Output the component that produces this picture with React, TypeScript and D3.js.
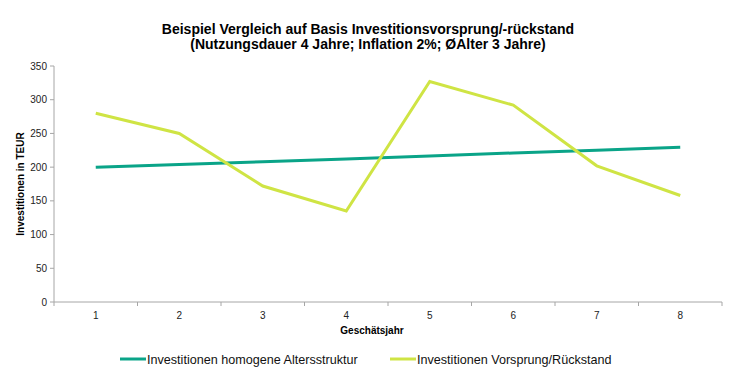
import React from "react";
import * as d3 from "d3";

const years = ["1", "2", "3", "4", "5", "6", "7", "8"];
const homogen = [200, 204, 208, 212, 216.5, 221, 225, 229.5];
const vorsprung = [280, 250, 172, 135, 327, 292, 202, 158];
const yTicks = [0, 50, 100, 150, 200, 250, 300, 350];

const W = 731;
const H = 383;
const M = { left: 54, right: 722, top: 66, bottom: 302 };
const FONT = "'Liberation Sans', Arial, sans-serif";
const GREEN = "#0aa488";
const YELLOW = "#cfe444";
const AXIS = "#a6a6a6";

export default function App() {
  const x = d3.scaleBand<string>().domain(years).range([M.left, M.right]);
  const y = d3.scaleLinear().domain([0, 350]).range([M.bottom, M.top]);
  const line = d3
    .line<number>()
    .x((_, i) => (x(years[i]) as number) + x.bandwidth() / 2)
    .y((d) => y(d));
  const bounds = years.map((yr) => x(yr) as number).concat([M.right]);

  return (
    <svg
      width={W}
      height={H}
      style={{ position: "absolute", left: 0, top: 0, background: "#fff" }}
      fontFamily={FONT}
    >
      <text x={368} y={34} textAnchor="middle" fontSize={14} fontWeight="bold">
        Beispiel Vergleich auf Basis Investitionsvorsprung/-rückstand
      </text>
      <text x={368} y={49} textAnchor="middle" fontSize={14} fontWeight="bold">
        (Nutzungsdauer 4 Jahre; Inflation 2%; ØAlter 3 Jahre)
      </text>

      {/* y axis */}
      <line x1={M.left} x2={M.left} y1={M.top} y2={M.bottom} stroke={AXIS} />
      {yTicks.map((t) => (
        <g key={t}>
          <line x1={M.left - 4} x2={M.left} y1={y(t)} y2={y(t)} stroke={AXIS} />
          <text x={M.left - 7} y={y(t) + 3.5} textAnchor="end" fontSize={10} fill="#222">
            {t}
          </text>
        </g>
      ))}
      {/* x axis */}
      <line x1={M.left} x2={M.right} y1={M.bottom} y2={M.bottom} stroke={AXIS} />
      {bounds.map((b, i) => (
        <line key={i} x1={b} x2={b} y1={M.bottom} y2={M.bottom + 4} stroke={AXIS} />
      ))}
      {years.map((yr) => (
        <text
          key={yr}
          x={(x(yr) as number) + x.bandwidth() / 2}
          y={M.bottom + 17}
          textAnchor="middle"
          fontSize={10}
          fill="#222"
        >
          {yr}
        </text>
      ))}
      <text x={372} y={334} textAnchor="middle" fontSize={10} fontWeight="bold">
        Geschätsjahr
      </text>
      <text
        transform={`translate(24,${(M.top + M.bottom) / 2}) rotate(-90)`}
        textAnchor="middle"
        fontSize={10}
        fontWeight="bold"
      >
        Investitionen in TEUR
      </text>

      <path d={line(homogen) || ""} fill="none" stroke={GREEN} strokeWidth={3} />
      <path d={line(vorsprung) || ""} fill="none" stroke={YELLOW} strokeWidth={3} />

      {/* legend */}
      <line x1={120} x2={146} y1={359} y2={359} stroke={GREEN} strokeWidth={3} />
      <text x={147} y={363.5} fontSize={12.6} fill="#111">
        Investitionen homogene Altersstruktur
      </text>
      <line x1={390} x2={416} y1={359} y2={359} stroke={YELLOW} strokeWidth={3} />
      <text x={417} y={363.5} fontSize={12.6} fill="#111">
        Investitionen Vorsprung/Rückstand
      </text>
    </svg>
  );
}
